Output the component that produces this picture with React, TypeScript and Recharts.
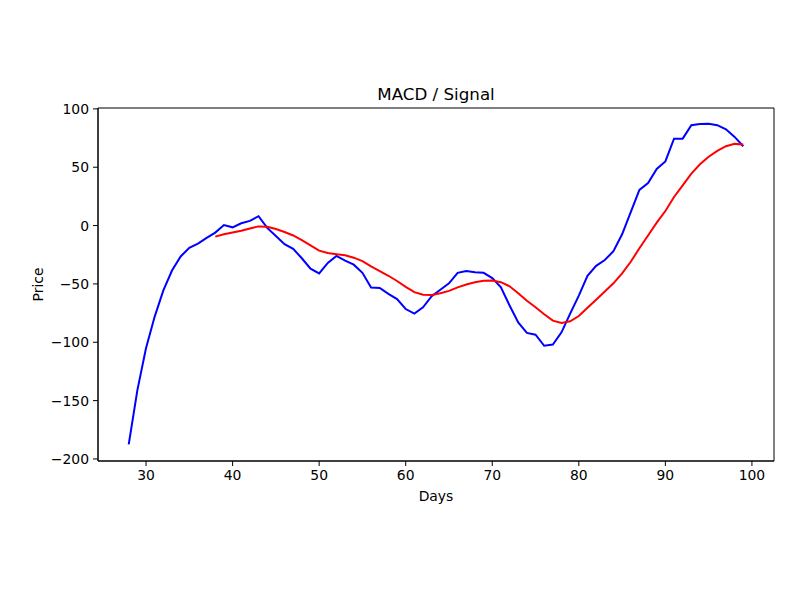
import { Line, LineChart, ReferenceArea, XAxis, YAxis } from "recharts";

const FONT = "DejaVu Sans, sans-serif";

// days 28..99
const days = [
  28, 29, 30, 31, 32, 33, 34, 35, 36, 37, 38, 39, 40, 41, 42, 43, 44, 45, 46, 47, 48, 49, 50, 51,
  52, 53, 54, 55, 56, 57, 58, 59, 60, 61, 62, 63, 64, 65, 66, 67, 68, 69, 70, 71, 72, 73, 74, 75,
  76, 77, 78, 79, 80, 81, 82, 83, 84, 85, 86, 87, 88, 89, 90, 91, 92, 93, 94, 95, 96, 97, 98, 99,
];

const macd = [
  -187.5, -141, -105, -78, -55.5, -38.5, -26.5, -19, -15.5, -10.5, -6, 0.5, -1.5, 2, 4, 8, -2,
  -9, -16, -20, -28, -37, -41, -32, -26, -30, -33.5, -40.5, -53, -53.5, -58.5, -63, -71.5, -75.5,
  -70, -60.5, -55, -49.5, -40.5, -39, -40, -40.5, -45, -53, -68.5, -83, -92, -93.5, -103, -102,
  -91.5, -75.5, -60, -43, -34.5, -29.5, -22, -7.5, 11.5, 30.5, 36.5, 48.5, 55, 74.5, 74.5, 86, 87,
  87.3, 86, 82.5, 76, 68,
];

// signal starts at day 38
const signalStart = 38;
const signal = [
  -9.5, -7.5, -6, -4.5, -2.5, -0.7, -1, -3, -5.5, -8.5, -12.5, -17, -21.5, -23.5, -24.5, -25.5,
  -27.5, -30.5, -35, -39, -43, -47.5, -52.5, -57, -59.3, -59.5, -58, -56, -53, -50.5, -48.5, -47.2,
  -47, -48.5, -52, -58, -64.5, -70, -76, -81.5, -83.5, -82, -77.5, -70.5, -63.5, -56.5, -49.5, -41,
  -31, -19.5, -8.5, 2.5, 12.5, 24.5, 34.5, 44.5, 52.5, 59, 64, 68, 70, 69.5,
];

const xTicks = [30, 40, 50, 60, 70, 80, 90, 100];
const yTicks = [-200, -150, -100, -50, 0, 50, 100];

const xDomain: [number, number] = [24.45, 102.55];
const yDomain: [number, number] = [-201.75, 100.75];

const data = days.map((d, i) => ({
  day: d,
  macd: macd[i],
  signal: d >= signalStart ? signal[d - signalStart] : null,
}));

const fmt = (v: number) => (v < 0 ? "\u2212" + Math.abs(v) : String(v));

const tickStyle = { fill: "#000", fontSize: 13.9, fontFamily: FONT };

export default function App() {
  return (
    <div style={{ position: "absolute", left: 0, top: 0, background: "#fff" }}>
      <LineChart
        width={800}
        height={600}
        data={data}
        margin={{ top: 108, right: 26, bottom: 109, left: 38 }}
      >
        <XAxis
          dataKey="day"
          type="number"
          domain={xDomain}
          ticks={xTicks}
          allowDataOverflow
          height={30}
          tick={tickStyle}
          tickSize={5}
          tickMargin={4}
          axisLine={{ stroke: "#000" }}
          tickLine={{ stroke: "#000" }}
        />
        <YAxis
          type="number"
          domain={yDomain}
          ticks={yTicks}
          allowDataOverflow
          width={60}
          tick={tickStyle}
          tickFormatter={fmt}
          tickSize={5}
          tickMargin={4}
          axisLine={{ stroke: "#000" }}
          tickLine={{ stroke: "#000" }}
        />
        <ReferenceArea
          x1={xDomain[0]}
          x2={xDomain[1]}
          y1={yDomain[0]}
          y2={yDomain[1]}
          fill="none"
          stroke="#000"
          strokeWidth={1}
          ifOverflow="visible"
        />
        <Line
          dataKey="macd"
          stroke="#0000ff"
          strokeWidth={2}
          dot={false}
          activeDot={false}
          isAnimationActive={false}
        />
        <Line
          dataKey="signal"
          stroke="#ff0000"
          strokeWidth={2}
          dot={false}
          activeDot={false}
          isAnimationActive={false}
        />
        <text x={436} y={100} textAnchor="middle" fontSize={16.7} fontFamily={FONT} fill="#000">
          MACD / Signal
        </text>
        <text x={436} y={501} textAnchor="middle" fontSize={13.9} fontFamily={FONT} fill="#000">
          Days
        </text>
        <text
          x={43}
          y={284.5}
          textAnchor="middle"
          fontSize={13.9}
          fontFamily={FONT}
          fill="#000"
          transform="rotate(-90 43 284.5)"
        >
          Price
        </text>
      </LineChart>
    </div>
  );
}
